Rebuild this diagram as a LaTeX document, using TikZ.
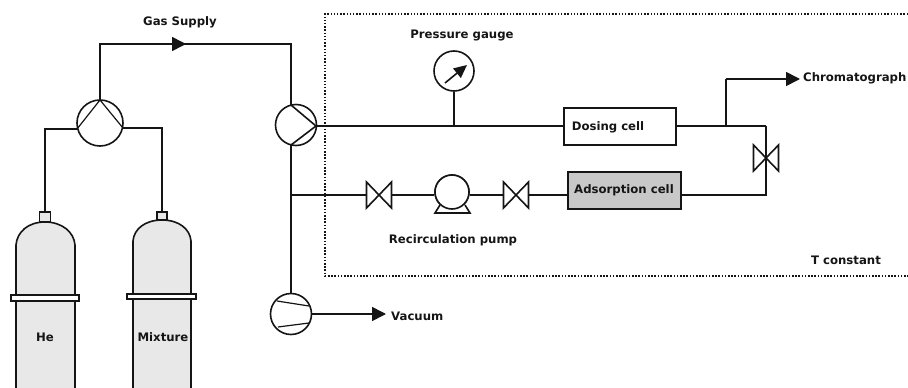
\documentclass[tikz,border=0pt]{standalone}
\usepackage{fontspec}
\setmainfont{DejaVu Sans}
\usetikzlibrary{arrows.meta}
\definecolor{cylfill}{HTML}{E8E8E8}
\definecolor{cellfill}{HTML}{C8C8C8}
\definecolor{ink}{HTML}{151515}
\tikzset{
  pipe/.style={draw=ink,line width=1.6pt},
  thick pipe/.style={draw=ink,line width=2.4pt},
  flow/.style={pipe,-{Triangle[length=14pt,width=14pt]}},
  round part/.style={circle,draw=ink,line width=1.6pt,fill=white,minimum size=#1,inner sep=0pt},
  cell/.style={rectangle,draw=ink,line width=2pt,inner sep=0pt},
  cyl/.style={draw=ink,line width=1.6pt,fill=cylfill},
  lbl/.style={font=\fontsize{11.7}{14}\selectfont\bfseries,text=ink,inner sep=0pt},
  valve/.pic={\draw[draw=ink,line width=1.6pt,fill=white] (-12.5,-13) -- (12.5,13) -- (12.5,-13) -- (-12.5,13) -- cycle;}
}
\begin{document}
\begin{tikzpicture}[x=1pt,y=-1pt]
\useasboundingbox (0,0) rectangle (908,388);
% enclosure
\coordinate (encTR) at (908,14);
\coordinate (encTL) at (325,14);
\coordinate (encBL) at (325,276);
\coordinate (encBR) at (908,276);
\draw[ink,line width=1.3pt,dash pattern=on 1.5pt off 1.7pt] (encTR) -- (encTL) -- (encBL) -- (encBR);
% cylinders
\draw[cyl] (16,388) -- (16,245) .. controls (17,232) and (28,222) .. (45,222) .. controls (62,222) and (74,232) .. (75,245) -- (75,388);
\draw[cyl] (133,388) -- (133,241) .. controls (134,229) and (145,220) .. (162,220) .. controls (179,220) and (190,229) .. (191,241) -- (191,388);
\node[cyl,minimum width=11pt,minimum height=10pt,inner sep=0pt] (capHe) at (45,217) {};
\node[cyl,minimum width=10pt,minimum height=8pt,inner sep=0pt] (capMix) at (162,216) {};
\node[cyl,fill=white,minimum width=68pt,minimum height=6pt,inner sep=0pt] (bandHe) at (45,298) {};
\node[cyl,fill=white,minimum width=69pt,minimum height=5pt,inner sep=0pt] (bandMix) at (161.5,296.5) {};
\node[lbl] (he) at (45,337) {He};
\node[lbl] (mix) at (163,337.5) {Mixture};
% parts
\node[round part=46pt] (v1) at (100,123) {};
\node[round part=41pt] (v2) at (296,125) {};
\node[round part=41pt] (vac) at (291,314) {};
\node[round part=40pt] (gauge) at (454,71) {};
\node[cell,fill=white,minimum width=112pt,minimum height=37pt] (dose) at (620,126) {};
\node[cell,fill=cellfill,minimum width=113pt,minimum height=37pt] (ads) at (624.5,190.5) {};
% pipes
\coordinate (tl) at (100,44);
\coordinate (tr) at (291,44);
\coordinate (v2top) at (291,105);
\coordinate (v2bot) at (291,145);
\coordinate (v2tip) at (316,126);
\coordinate (v1top) at (100,100);
\coordinate (v1l) at (77,129);
\coordinate (v1r) at (123,128);
\coordinate (hel) at (45,129);
\coordinate (mixr) at (162,128);
\coordinate (jbr) at (291,195);
\coordinate (jg) at (454,126);
\coordinate (jc) at (726,126);
\coordinate (cr) at (766,126);
\coordinate (br) at (766,195);
\coordinate (cup) at (726,79);
\coordinate (cend) at (800,79);
\coordinate (vend) at (386,314);
\coordinate (v3) at (379,195);
\coordinate (v4) at (516,195);
\coordinate (v5) at (766,158);
\node[round part=34pt] (pump) at (452,192) {};
\draw[pipe] (v1top) -- (tl) -- (tr) -- (v2top);
\draw[flow] (tl) -- (186,44);
\draw[pipe] (v1l) -- (hel) -- (capHe.north);
\draw[pipe] (v1r) -- (mixr) -- (capMix.north);
\draw[pipe,line width=1.2pt] (v1l) -- (v1top) -- (v1r);
\draw[pipe] (v2top) -- (v2tip) -- (v2bot);
\draw[pipe] (v2bot) -- (vac.north -| v2bot);
\draw[thick pipe] (v2tip) -- (dose.west);
\draw[pipe] (gauge.south) -- (jg);
\draw[thick pipe] (dose.east) -- (cr);
\draw[pipe] (jc) -- (cup);
\draw[flow] (cup) -- (cend);
\draw[pipe] (cr) -- (br) -- (ads.east |- br);
\draw[pipe] (jbr) -- (v3) -- (pump.west |- jbr);
\draw[pipe] (pump.east |- jbr) -- (v4) -- (ads.west |- v4);
\draw[flow] (vac.east) -- (vend);
% pump base
\draw[pipe,fill=white] (440,205) -- (435,213) -- (470,213) -- (465,205);
\node[round part=34pt] (pumpTop) at (452,192) {};
% valves
\pic at (v3) {valve};
\pic at (v4) {valve};
\pic at (v5) {valve};
\draw[pipe] (cr) -- (br);
% vacuum pump vanes
\draw[pipe,line width=1.2pt] (277,301) -- (309,306);
\draw[pipe,line width=1.2pt] (278,327) -- (309,323);
% gauge needle
\draw[pipe,-{Triangle[length=13pt,width=12pt]}] (445,83) -- (467,65);
% labels
\node[lbl] (gas) at (180,22) {Gas Supply};
\node[lbl] (pg) at (462,35) {Pressure gauge};
\node[lbl] (dc) at (608,127) {Dosing cell};
\node[lbl] (ac) at (624,190) {Adsorption cell};
\node[lbl] (rp) at (453,240) {Recirculation pump};
\node[lbl,anchor=west] (chr) at (803,78) {Chromatograph};
\node[lbl,anchor=west] (vt) at (391,316) {Vacuum};
\node[lbl] (tc) at (846,260) {T constant};
\end{tikzpicture}
\end{document}
